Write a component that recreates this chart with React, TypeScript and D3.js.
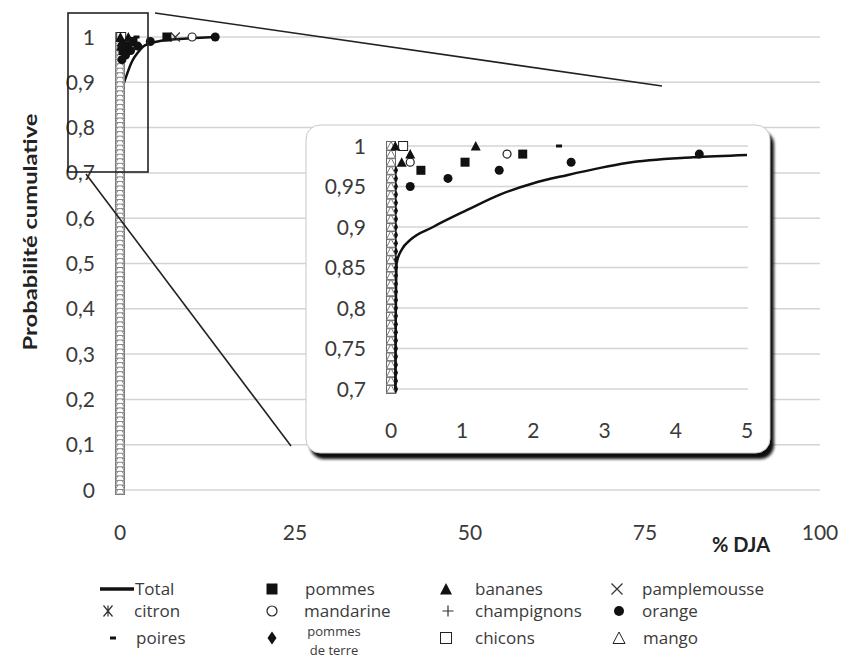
import React from 'react';
import * as d3 from 'd3';

// ---------- DATA ----------
const xTicksMain = [0, 25, 50, 75, 100];
const yTicksMain = [0, 0.1, 0.2, 0.3, 0.4, 0.5, 0.6, 0.7, 0.8, 0.9, 1];
const yTickLabelsMain = ['0', '0,1', '0,2', '0,3', '0,4', '0,5', '0,6', '0,7', '0,8', '0,9', '1'];
const xTicksInset = [0, 1, 2, 3, 4, 5];
const yTicksInset = [0.7, 0.75, 0.8, 0.85, 0.9, 0.95, 1];
const yTickLabelsInset = ['0,7', '0,75', '0,8', '0,85', '0,9', '0,95', '1'];

// cumulative probability levels at which most foods are at 0 % DJA
const zeroLevels = [
  0, 0.01, 0.02, 0.03, 0.04, 0.05, 0.06, 0.07, 0.08, 0.09,
  0.1, 0.11, 0.12, 0.13, 0.14, 0.15, 0.16, 0.17, 0.18, 0.19,
  0.2, 0.21, 0.22, 0.23, 0.24, 0.25, 0.26, 0.27, 0.28, 0.29,
  0.3, 0.31, 0.32, 0.33, 0.34, 0.35, 0.36, 0.37, 0.38, 0.39,
  0.4, 0.41, 0.42, 0.43, 0.44, 0.45, 0.46, 0.47, 0.48, 0.49,
  0.5, 0.51, 0.52, 0.53, 0.54, 0.55, 0.56, 0.57, 0.58, 0.59,
  0.6, 0.61, 0.62, 0.63, 0.64, 0.65, 0.66, 0.67, 0.68, 0.69,
  0.7, 0.71, 0.72, 0.73, 0.74, 0.75, 0.76, 0.77, 0.78, 0.79,
  0.8, 0.81, 0.82, 0.83, 0.84, 0.85, 0.86, 0.87, 0.88, 0.89,
  0.9, 0.91, 0.92, 0.93, 0.94, 0.95, 0.96, 0.97, 0.98, 0.99, 1,
];

const totalX = [0.05, 0.06, 0.08, 0.15, 0.27, 0.59, 1.07, 1.53, 2.0, 2.47, 2.94, 3.31, 4.24, 5.0, 7.0, 10.0, 13.6];
const totalY = [0.0, 0.7, 0.856, 0.872, 0.884, 0.9, 0.921, 0.94, 0.954, 0.964, 0.973, 0.979, 0.986, 0.989, 0.994, 0.997, 1.0];

const pommesX = [0.42, 1.04, 1.85, 6.7];
const pommesY = [0.97, 0.98, 0.99, 1.0];
const bananesX = [0.06, 0.15, 0.27, 1.19];
const bananesY = [1.0, 0.98, 0.99, 1.0];
const pamplemousseX = [7.9];
const pamplemousseY = [1.0];
const citronX: number[] = [];
const citronY: number[] = [];
const mandarineX = [0.27, 1.63, 10.3];
const mandarineY = [0.98, 0.99, 1.0];
const champignonsX: number[] = [];
const champignonsY: number[] = [];
const orangeX = [0.27, 0.8, 1.52, 2.53, 4.33, 13.6];
const orangeY = [0.95, 0.96, 0.97, 0.98, 0.99, 1.0];
const poiresX = [2.36];
const poiresY = [1.0];
const pdtX = [0.07, 0.07, 0.07, 0.07, 0.07, 0.07, 0.07, 0.07, 0.07, 0.07, 0.07, 0.07, 0.07, 0.07, 0.07, 0.07, 0.07, 0.07, 0.07, 0.07, 0.07, 0.07, 0.07, 0.07, 0.07, 0.07, 0.07, 0.07];
const pdtY = [0.7, 0.71, 0.72, 0.73, 0.74, 0.75, 0.76, 0.77, 0.78, 0.79, 0.8, 0.81, 0.82, 0.83, 0.84, 0.85, 0.86, 0.87, 0.88, 0.89, 0.9, 0.91, 0.92, 0.93, 0.94, 0.95, 0.96, 0.97];
const chiconsX = [0.17];
const chiconsY = [1.0];

const FONT = 'Lato, "Open Sans", sans-serif';
const TXT = '#3a3a3a';
const GRID = '#d4d4d4';

type MType = 'sqFill' | 'sqOpen' | 'triFill' | 'triOpen' | 'circFill' | 'circOpen' | 'diamond' | 'cross' | 'plus' | 'star' | 'dash';

function Marker({ t, x, y, s = 9, stroke = '#222' }: { t: MType; x: number; y: number; s?: number; stroke?: string }) {
  const h = s / 2;
  switch (t) {
    case 'sqFill':
      return <rect x={x - h} y={y - h} width={s} height={s} fill="#111" />;
    case 'sqOpen':
      return <rect x={x - h} y={y - h} width={s} height={s} fill="white" stroke={stroke} strokeWidth={1} />;
    case 'triFill':
      return <path d={`M${x},${y - h - 0.5}L${x + h + 0.5},${y + h}L${x - h - 0.5},${y + h}Z`} fill="#111" />;
    case 'triOpen':
      return <path d={`M${x},${y - h - 0.5}L${x + h + 0.5},${y + h}L${x - h - 0.5},${y + h}Z`} fill="white" stroke={stroke} strokeWidth={1} />;
    case 'circFill':
      return <circle cx={x} cy={y} r={h} fill="#111" />;
    case 'circOpen':
      return <circle cx={x} cy={y} r={h - 0.5} fill="white" stroke={stroke} strokeWidth={1.2} />;
    case 'diamond':
      return <path d={`M${x},${y - h - 1}L${x + h - 1},${y}L${x},${y + h + 1}L${x - h + 1},${y}Z`} fill="#111" />;
    case 'cross':
      return <path d={`M${x - h},${y - h}L${x + h},${y + h}M${x - h},${y + h}L${x + h},${y - h}`} stroke="#333" strokeWidth={1.2} />;
    case 'plus':
      return <path d={`M${x - h},${y}L${x + h},${y}M${x},${y - h}L${x},${y + h}`} stroke="#333" strokeWidth={1.2} />;
    case 'star':
      return <path d={`M${x - h + 1},${y - h}L${x + h - 1},${y + h}M${x - h + 1},${y + h}L${x + h - 1},${y - h}M${x},${y - h}L${x},${y + h}`} stroke="#333" strokeWidth={1.2} />;
    case 'dash':
      return <rect x={x - 3} y={y - 1.5} width={6} height={3} fill="#111" />;
  }
  return null;
}

const pointSeries: { t: MType; xs: number[]; ys: number[] }[] = [
  { t: 'sqOpen', xs: chiconsX, ys: chiconsY },
  { t: 'star', xs: citronX, ys: citronY },
  { t: 'plus', xs: champignonsX, ys: champignonsY },
  { t: 'dash', xs: poiresX, ys: poiresY },
  { t: 'cross', xs: pamplemousseX, ys: pamplemousseY },
  { t: 'circOpen', xs: mandarineX, ys: mandarineY },
  { t: 'sqFill', xs: pommesX, ys: pommesY },
  { t: 'triFill', xs: bananesX, ys: bananesY },
  { t: 'circFill', xs: orangeX, ys: orangeY },
];

export default function App() {
  const W = 845, H = 660;
  // main scales
  const xM = d3.scaleLinear().domain([0, 100]).range([120, 820]);
  const yM = d3.scaleLinear().domain([0, 1]).range([490, 37]);
  // inset scales
  const xI = d3.scaleLinear().domain([0, 5]).range([391, 747]);
  const yI = d3.scaleLinear().domain([0.7, 1]).range([389, 146]);

  const totalPts = totalX.map((x, i) => [x, totalY[i]] as [number, number]);
  const lineM = d3.line<[number, number]>().x(d => xM(d[0])).y(d => yM(d[1])).curve(d3.curveMonotoneX);
  const lineI = d3.line<[number, number]>().x(d => xI(d[0])).y(d => yI(d[1])).curve(d3.curveMonotoneX);

  const insetLevels = zeroLevels.filter(v => v >= 0.7);

  const legend: { t: MType | 'line'; sx: number; y: number; tx: number; label: string[] }[] = [
    { t: 'line', sx: 117, y: 589, tx: 135, label: ['Total'] },
    { t: 'star', sx: 108, y: 611, tx: 134, label: ['citron'] },
    { t: 'dash', sx: 113, y: 638, tx: 136, label: ['poires'] },
    { t: 'sqFill', sx: 272, y: 589, tx: 305, label: ['pommes'] },
    { t: 'circOpen', sx: 272, y: 611, tx: 304, label: ['mandarine'] },
    { t: 'diamond', sx: 272, y: 638, tx: 334, label: ['pommes', 'de terre'] },
    { t: 'triFill', sx: 446, y: 589, tx: 475, label: ['bananes'] },
    { t: 'plus', sx: 448, y: 611, tx: 475, label: ['champignons'] },
    { t: 'sqOpen', sx: 446, y: 638, tx: 475, label: ['chicons'] },
    { t: 'cross', sx: 617, y: 589, tx: 642, label: ['pamplemousse'] },
    { t: 'circFill', sx: 619, y: 611, tx: 642, label: ['orange'] },
    { t: 'triOpen', sx: 619, y: 638, tx: 643, label: ['mango'] },
  ];

  return (
    <svg width={W} height={H} style={{ position: 'absolute', left: 0, top: 0, background: 'white' }} fontFamily={FONT}>
      <defs>
        <filter id="blur" x="-10%" y="-10%" width="120%" height="130%">
          <feGaussianBlur stdDeviation={1.6} />
        </filter>
        <clipPath id="insetClip">
          <rect x={xI(0) - 6} y={yI(1) - 6} width={xI(5) - xI(0) + 8} height={yI(0.7) - yI(1) + 6} />
        </clipPath>
      </defs>
      <rect x={0} y={0} width={W} height={H} fill="white" />

      {/* main gridlines */}
      {yTicksMain.map(v => (
        <line key={'gm' + v} x1={xM(0)} x2={xM(100)} y1={yM(v)} y2={yM(v)} stroke={GRID} strokeWidth={1.5} />
      ))}
      {/* main y labels */}
      {yTicksMain.map((v, i) => (
        <text key={'ym' + v} x={95} y={yM(v)} dy="0.36em" textAnchor="end" fontSize={21} fill={TXT}>{yTickLabelsMain[i]}</text>
      ))}
      {/* main x labels */}
      {xTicksMain.map(v => (
        <text key={'xm' + v} x={xM(v)} y={540} textAnchor="middle" fontSize={21} fill={TXT}>{v}</text>
      ))}
      <text x={741} y={552} textAnchor="middle" fontSize={20} fontWeight="bold" fill="#222">% DJA</text>
      <text transform="translate(37,232) rotate(-90)" textAnchor="middle" fontSize={19} fontWeight="bold" fill="#222" textLength={237} lengthAdjust="spacingAndGlyphs">Probabilité cumulative</text>

      {/* main: pommes de terre column & total (mostly hidden behind the zero ladder) */}
      {pdtX.map((x, i) => (
        <Marker key={'mpdt' + i} t="diamond" x={xM(x)} y={yM(pdtY[i])} s={9} />
      ))}
      <path d={lineM(totalPts) || ''} fill="none" stroke="#111" strokeWidth={2.5} />
      {/* main: ladder of markers at 0 */}
      {zeroLevels.map(v => (
        <Marker key={'mls' + v} t="sqOpen" x={xM(0)} y={yM(v)} s={9} stroke="#777" />
      ))}
      {zeroLevels.map(v => (
        <Marker key={'mlt' + v} t="triOpen" x={xM(0)} y={yM(v)} s={8} stroke="#888" />
      ))}
      {pointSeries.map((s, si) =>
        s.xs.map((x, i) => <Marker key={'mp' + si + '-' + i} t={s.t} x={xM(x)} y={yM(s.ys[i])} s={9} />)
      )}

      {/* zoom rectangle & connectors */}
      <rect x={68} y={13} width={80} height={159} fill="none" stroke="#222" strokeWidth={1.6} />
      <line x1={155} y1={13} x2={662} y2={86} stroke="#222" strokeWidth={1.6} />
      <line x1={86} y1={174} x2={291} y2={446} stroke="#222" strokeWidth={1.6} />

      {/* inset box */}
      <rect x={310} y={131} width={464} height={328} rx={14} fill="#111" filter="url(#blur)" />
      <rect x={306} y={125} width={464} height={328} rx={14} fill="white" stroke="#c8c8c8" strokeWidth={1} />

      {/* inset gridlines */}
      {yTicksInset.map(v => (
        <line key={'gi' + v} x1={xI(0)} x2={748} y1={yI(v)} y2={yI(v)} stroke={GRID} strokeWidth={1.5} />
      ))}
      {yTicksInset.map((v, i) => (
        <text key={'yi' + v} x={366} y={yI(v)} dy="0.36em" textAnchor="end" fontSize={21} fill={TXT}>{yTickLabelsInset[i]}</text>
      ))}
      {xTicksInset.map(v => (
        <text key={'xi' + v} x={xI(v)} y={438} textAnchor="middle" fontSize={21} fill={TXT}>{v}</text>
      ))}

      {/* inset ladder */}
      {insetLevels.map(v => (
        <Marker key={'ils' + v} t="sqOpen" x={xI(0)} y={yI(v)} s={9} stroke="#666" />
      ))}
      {insetLevels.map(v => (
        <Marker key={'ilt' + v} t="triOpen" x={xI(0)} y={yI(v)} s={8} stroke="#777" />
      ))}
      {/* inset pommes de terre column */}
      {pdtX.map((x, i) => (
        <path key={'ipdt' + i} d={`M${xI(x)},${yI(pdtY[i]) - 5}L${xI(x) + 2},${yI(pdtY[i])}L${xI(x)},${yI(pdtY[i]) + 5}L${xI(x) - 2},${yI(pdtY[i])}Z`} fill="#111" />
      ))}
      <g clipPath="url(#insetClip)">
        <path d={lineI(totalPts.filter(p => p[0] <= 6)) || ''} fill="none" stroke="#111" strokeWidth={2.5} />
      </g>
      {pointSeries.map((s, si) =>
        s.xs.map((x, i) =>
          x <= 5 && s.ys[i] >= 0.7 ? (
            <Marker key={'ip' + si + '-' + i} t={s.t} x={xI(x)} y={yI(s.ys[i])} s={9} />
          ) : null
        )
      )}

      {/* legend */}
      {legend.map((l, i) => (
        <g key={'lg' + i}>
          {l.t === 'line' ? (
            <line x1={100} x2={134} y1={l.y} y2={l.y} stroke="#111" strokeWidth={3.5} />
          ) : (
            <Marker t={l.t as MType} x={l.sx} y={l.y} s={l.t === 'circFill' ? 10 : 11} />
          )}
          {l.label.length === 1 ? (
            <text x={l.tx} y={l.y} dy="0.33em" fontSize={17} fill={TXT} fontFamily='"Open Sans", sans-serif'>{l.label[0]}</text>
          ) : (
            <g>
              <text x={l.tx} y={l.y - 2} textAnchor="middle" fontSize={13} fill={TXT} fontFamily='"Open Sans", sans-serif'>{l.label[0]}</text>
              <text x={l.tx} y={l.y + 16.5} textAnchor="middle" fontSize={13} fill={TXT} fontFamily='"Open Sans", sans-serif'>{l.label[1]}</text>
            </g>
          )}
        </g>
      ))}
    </svg>
  );
}
